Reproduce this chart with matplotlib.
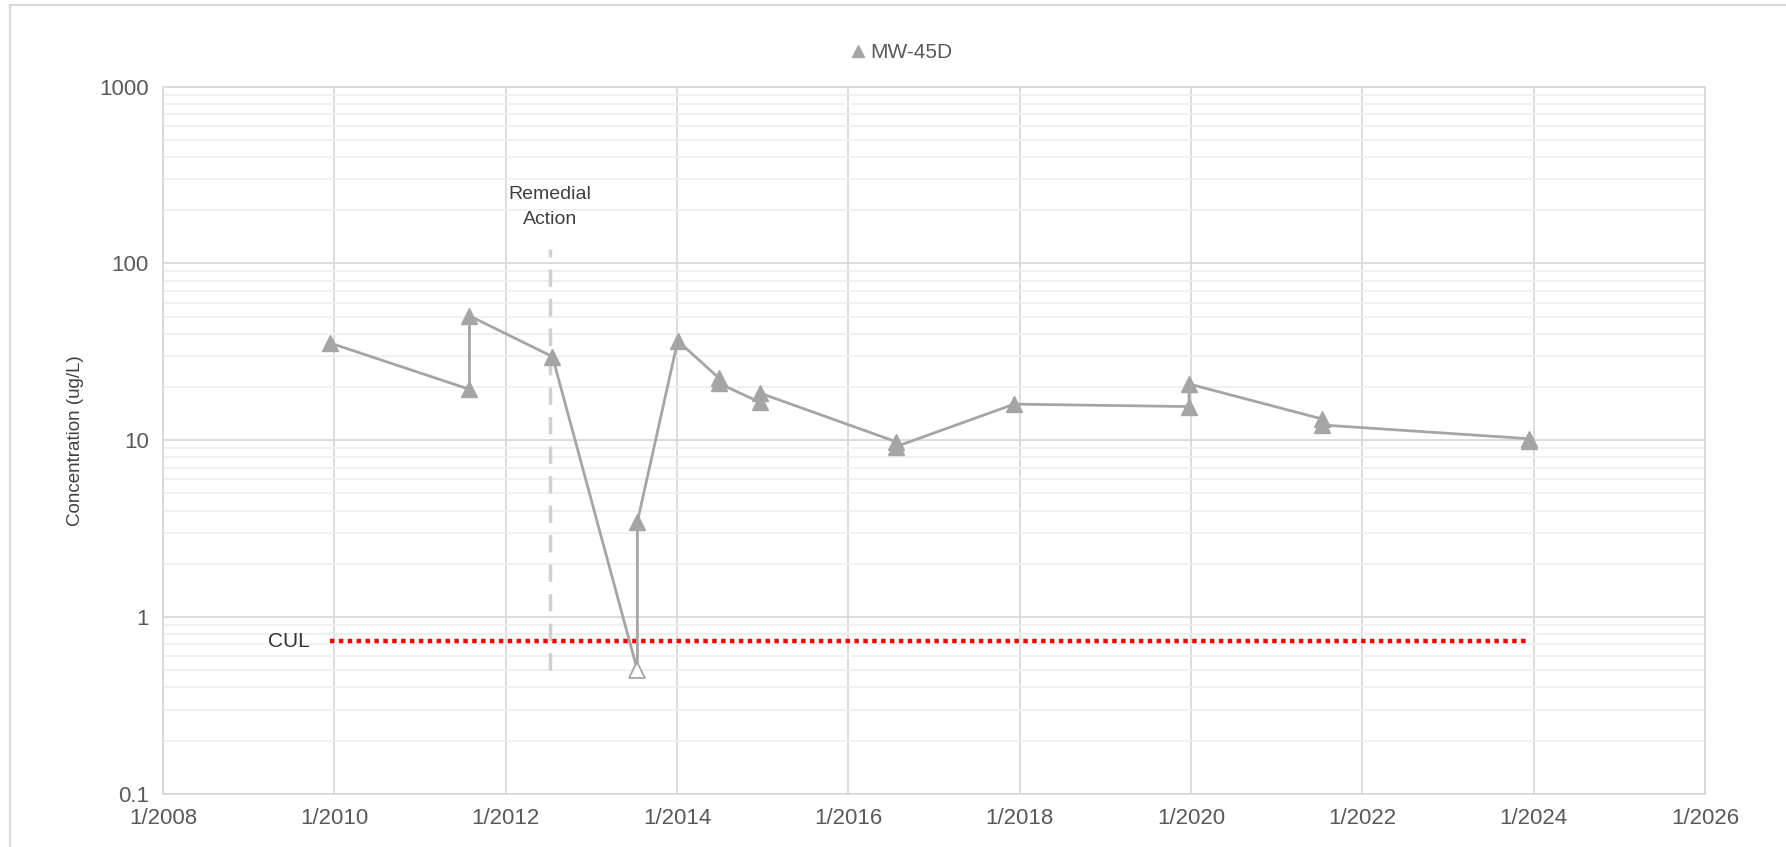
import matplotlib
matplotlib.use("Agg")
import matplotlib.pyplot as plt
from matplotlib.ticker import LogLocator, FixedFormatter, NullFormatter
from matplotlib.lines import Line2D
from matplotlib.patches import Rectangle
import datetime as dt

plt.rcParams['font.family'] = ['Liberation Sans', 'DejaVu Sans']

# MW-45D sample results, in sampling order
sample_dates = ['2009-12-13', '2011-07-31', '2011-07-31', '2012-07-19', '2013-07-16',
                '2013-07-16', '2014-01-04', '2014-06-28', '2014-06-28', '2014-12-20',
                '2014-12-20', '2016-07-23', '2016-07-23', '2017-12-08', '2019-12-24',
                '2019-12-24', '2021-07-12', '2021-07-12', '2023-12-13', '2023-12-13']
conc = [35.5, 19.4, 50.5, 29.7, 0.5, 3.46, 36.5, 22.5, 21.0, 16.4,
        18.5, 9.8, 9.2, 16.0, 15.5, 20.8, 13.2, 12.2, 10.2, 9.9]
non_detect = [False, False, False, False, True, False, False, False, False, False,
              False, False, False, False, False, False, False, False, False, False]

cul_value = 0.73
cul_start, cul_end = '2009-12-13', '2023-12-01'
remedial_date = '2012-07-08'
remedial_range = [0.5, 120]

tick_years = [2008, 2010, 2012, 2014, 2016, 2018, 2020, 2022, 2024, 2026]

grey = '#a5a5a5'

def to_date(s):
    return dt.datetime.strptime(s, '%Y-%m-%d')

dates = [to_date(s) for s in sample_dates]

fig = plt.figure(figsize=(17.86, 8.47), dpi=100)
ax = fig.add_axes([0.0912, 0.0627, 0.8635, 0.8351])

# chart border
fig.patches.append(Rectangle((0.0055, -0.02), 1.2, 1.014, transform=fig.transFigure,
                             fill=False, edgecolor='#d9d9d9', linewidth=1.5))

ax.plot(dates, conc, color=grey, linewidth=2.0, zorder=3)
det_x = [d for d, nd in zip(dates, non_detect) if not nd]
det_y = [c for c, nd in zip(conc, non_detect) if not nd]
nd_x = [d for d, nd in zip(dates, non_detect) if nd]
nd_y = [c for c, nd in zip(conc, non_detect) if nd]
ax.plot(det_x, det_y, linestyle='none', marker='^', markersize=12,
        color=grey, zorder=4)
ax.plot(nd_x, nd_y, linestyle='none', marker='^', markersize=12,
        markerfacecolor='white', markeredgecolor=grey, markeredgewidth=1.3, zorder=4)

# cleanup level
ax.plot([to_date(cul_start), to_date(cul_end)], [cul_value, cul_value],
        color='#ff0000', linewidth=3.2, linestyle=(0, (1, 1)), zorder=2)
ax.text(to_date('2009-09-20'), cul_value, 'CUL', ha='right', va='center',
        fontsize=15, color='#333333')

# remedial action marker
rd = to_date(remedial_date)
ax.plot([rd, rd], remedial_range, color='#d0d0d0', linewidth=2.5,
        linestyle=(0, (5, 3.5)), zorder=2)
ax.text(rd, 158, 'Remedial\nAction', ha='center', va='bottom', fontsize=14,
        color='#404040', linespacing=1.6)

ax.set_yscale('log')
ax.set_ylim(0.1, 1000)
ax.set_xlim(dt.datetime(2008, 1, 1), dt.datetime(2026, 1, 1))

ticks = [dt.datetime(y, 1, 1) for y in tick_years]
ax.set_xticks(ticks)
ax.set_xticklabels(['1/%d' % y for y in tick_years])
ax.set_yticks([0.1, 1, 10, 100, 1000])
ax.yaxis.set_major_formatter(FixedFormatter(['0.1', '1', '10', '100', '1000']))
ax.yaxis.set_minor_locator(LogLocator(base=10, subs=range(2, 10), numticks=20))
ax.yaxis.set_minor_formatter(NullFormatter())

ax.grid(True, which='major', axis='both', color='#d9d9d9', linewidth=1.3, zorder=0)
ax.grid(True, which='minor', axis='y', color='#efefef', linewidth=1.3, zorder=0)
ax.set_axisbelow(True)
ax.tick_params(which='both', length=0, labelsize=16, labelcolor='#595959', pad=10)
for s in ax.spines.values():
    s.set_color('#d9d9d9')
    s.set_linewidth(1.3)

ax.set_ylabel('Concentration (ug/L)', fontsize=13.5, color='#404040', labelpad=11)

handle = Line2D([], [], linestyle='none', marker='^', markersize=9, color=grey)
fig.legend([handle], ['MW-45D'], loc='center', bbox_to_anchor=(0.501, 0.938),
           frameon=False, fontsize=15, handletextpad=-0.4, borderaxespad=0,
           labelcolor='#595959')

fig.savefig('out.png', dpi=100)
